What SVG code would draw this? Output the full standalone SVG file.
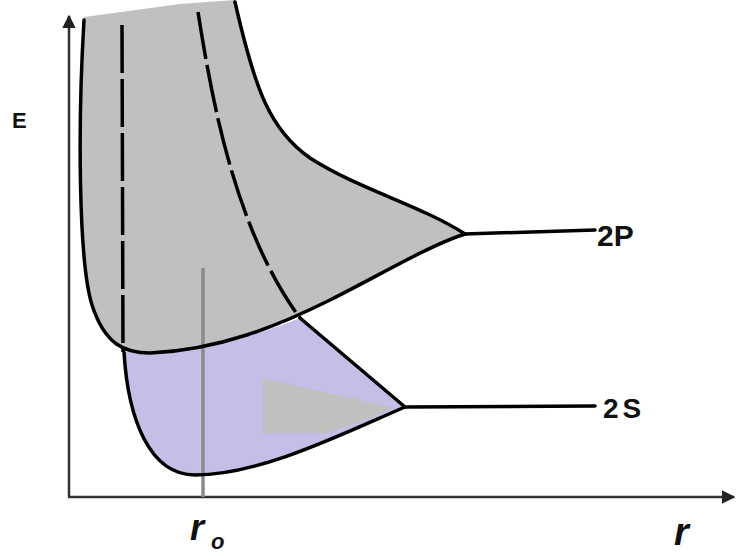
<svg xmlns="http://www.w3.org/2000/svg" width="739" height="553" viewBox="0 0 739 553">
<style>
.c{fill:none;stroke:#000;stroke-width:3.5;stroke-linecap:round;stroke-linejoin:round}
.d{fill:none;stroke:#000;stroke-width:3.5;stroke-dasharray:48 6}
.ax{stroke:#333;stroke-width:2.5;fill:none}
.lb{font-family:"Liberation Sans",Arial,sans-serif;font-weight:bold;fill:#111}
</style>
<defs>
<marker id="ar" viewBox="0 0 10 10" refX="9" refY="5" markerWidth="5.5" markerHeight="5.5" orient="auto" markerUnits="strokeWidth">
<path d="M0,0 L10,5 L0,10 z" fill="#222"/>
</marker>
</defs>
<rect width="739" height="553" fill="#fff"/>
<g id="regions">
<path d="M84,17 L180,4 L235,0 C255,90 270,130 310,158 C360,190 420,205 465,234 C430,245 380,275 330,300 C280,325 220,350 150,353 C125,353 105,345 92,305 C78,260 78,120 84,17 Z" fill="#c0c0c0"/>
<path d="M124,352 C170,352 250,340 300,318 L405,407 C340,435 260,475 195,475 C150,475 128,420 124,352 Z" fill="#c4bfe6"/>
<path d="M263,378 L395,408 C370,418 345,428 325,433 L263,433 Z" fill="#c0c0c0"/>
</g>
<g id="axes">
<line class="ax" x1="69" y1="497" x2="69" y2="16" marker-end="url(#ar)"/>
<line class="ax" x1="68" y1="497" x2="734" y2="497" marker-end="url(#ar)"/>
<line x1="203" y1="268" x2="203" y2="497" stroke="#8a8a8a" stroke-width="3.5"/>
</g>
<g id="curves">
<path class="c" d="M84,20 C78,120 78,260 92,305 C105,345 125,353 150,353 C220,350 280,325 330,300 C380,275 430,245 465,234"/>
<path class="c" d="M235,2 C255,90 270,130 310,158 C360,190 420,205 465,234 L595,230"/>
<path class="d" d="M122,25 L123,352"/>
<path class="c" d="M124,352 C128,420 150,475 195,475 C260,475 340,435 405,407 L595,406"/>
<path class="d" d="M198,12 C212,100 235,230 300,318"/>
<path class="c" d="M300,318 L405,407"/>
</g>
<g id="labels">
<text class="lb" x="12" y="128" font-size="22">E</text>
<text class="lb" x="597" y="246" font-size="30">2P</text>
<text class="lb" x="603" y="418" font-size="28" letter-spacing="4">2S</text>
<text class="lb" x="190" y="540" font-size="36" font-style="italic">r</text>
<text class="lb" x="211" y="549" font-size="22" font-style="italic">o</text>
<text class="lb" x="674" y="545" font-size="38" font-style="italic">r</text>
</g>
</svg>
